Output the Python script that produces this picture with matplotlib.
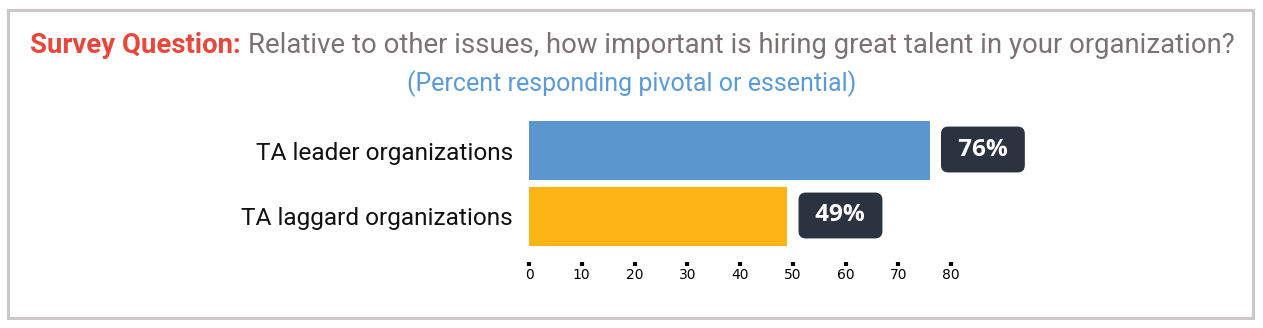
import matplotlib.pyplot as plt
from matplotlib.patches import Rectangle

# data
categories = ['TA leader organizations', 'TA laggard organizations']
values = [76, 49]
bar_colors = ['#5b96cf', '#fdb515']
xticks = [0, 10, 20, 30, 40, 50, 60, 70, 80]

W, H = 1263, 328
fig = plt.figure(figsize=(W / 100, H / 100), dpi=100)

# outer frame
fig.patches.append(Rectangle((8 / W, 10 / H), 1245 / W, 308 / H, transform=fig.transFigure,
                             fill=False, edgecolor='#cdc8c8', linewidth=2.2))

ax = fig.add_axes([529 / W, 1 - 246 / H, 422 / W, 125 / H])
ax.barh(range(len(values)), values, height=0.894, color=bar_colors)
ax.set_ylim(len(values) - 1 + 0.447, -0.447)
ax.set_xlim(0, 80)
ax.set_yticks(range(len(values)))
ax.set_yticklabels(categories, family='Roboto', fontsize=17.6, color='#111111')
ax.tick_params(axis='y', length=0, pad=11.5)
ax.set_xticks(xticks)
ax.set_xticklabels([str(t) for t in xticks], family='Roboto', fontsize=11, color='#222222')
ax.tick_params(axis='x', length=3, width=3, direction='out', color='black', pad=1.5)
for s in ['top', 'right', 'left']:
    ax.spines[s].set_visible(False)
ax.spines['bottom'].set_position(('outward', 11.5))
ax.spines['bottom'].set_visible(False)

for i, v in enumerate(values):
    ax.annotate(f' {v}% ', xy=(v, i), xytext=(22, 1), textcoords='offset pixels',
                ha='left', va='center', family='Open Sans', fontweight='bold',
                fontsize=17.5, color='white',
                bbox=dict(boxstyle='round,pad=0.45,rounding_size=0.3', fc='#2b333e', ec='none'))

# title in two colours
renderer = fig.canvas.get_renderer()
t1 = fig.text(0, 1 - 53 / H, 'Survey Question:', family='Roboto', fontweight='bold',
              fontsize=19.8, color='#e8473c', va='baseline')
t2 = fig.text(0, 1 - 53 / H, 'Relative to other issues, how important is hiring great talent in your organization?',
              family='Roboto', fontsize=19.8, color='#7a7272', va='baseline')
w1 = t1.get_window_extent(renderer).width
w2 = t2.get_window_extent(renderer).width
gap = 7
x0 = 632.5 - (w1 + gap + w2) / 2
t1.set_x(x0 / W)
t2.set_x((x0 + w1 + gap) / W)

fig.text(632 / W, 1 - 84 / H, '(Percent responding pivotal or essential)', family='Roboto',
         fontsize=18, color='#5b9bd5', ha='center', va='center')

fig.savefig('out.png', dpi=100)
